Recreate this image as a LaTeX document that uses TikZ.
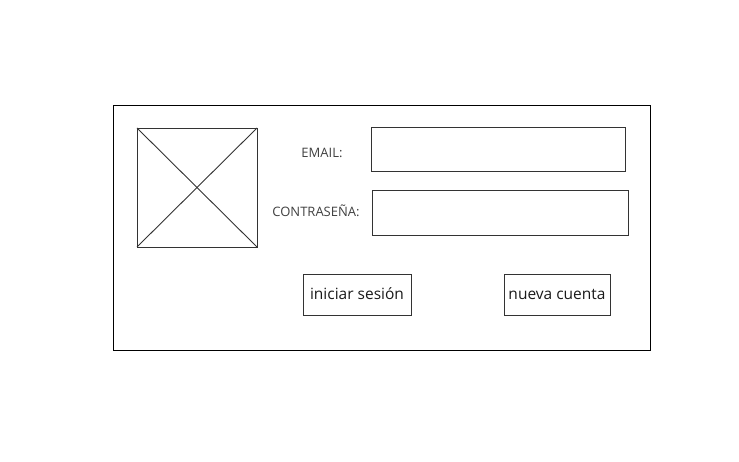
\documentclass[tikz,border=0pt]{standalone}
\usepackage{fontspec}
\setmainfont{Open Sans}
\usetikzlibrary{positioning}

\begin{document}
\begin{tikzpicture}[
    x=1pt, y=-1pt,
    field style/.style={draw=black!80, thick},
    label style/.style={text=black!75, font=\fontsize{13}{15}\selectfont, inner sep=0pt},
    button style/.style={draw=black!80, thick, text=black!90, font=\fontsize{15.5}{17}\selectfont,
        text height=2ex, text depth=0.1ex},
]
    \useasboundingbox (0,0) rectangle (739,462);

    % Frame
    \draw[thick] (113,105) rectangle (650,350);

    % Image placeholder
    \draw[field style, line width=0.9pt] (137,128) rectangle (257,247);
    \draw[field style, line width=0.9pt] (137,128) -- (257,247);
    \draw[field style, line width=0.9pt] (257,128) -- (137,247);

    % Labels and fields
    \node[label style] (email) at (322,153) {EMAIL:};
    \draw[field style] (371,127) rectangle (625,171);

    \node[label style] (pass) at (316,211) {CONTRASEÑA:};
    \draw[field style] (372,190) rectangle (628,235);

    % Buttons
    \node[button style, minimum width=108pt, minimum height=41pt] (login) at (357,294.5) {iniciar sesión};
    \node[button style, minimum width=106pt, minimum height=41pt] (signup) at (557,294.5) {nueva cuenta};

\end{tikzpicture}
\end{document}
